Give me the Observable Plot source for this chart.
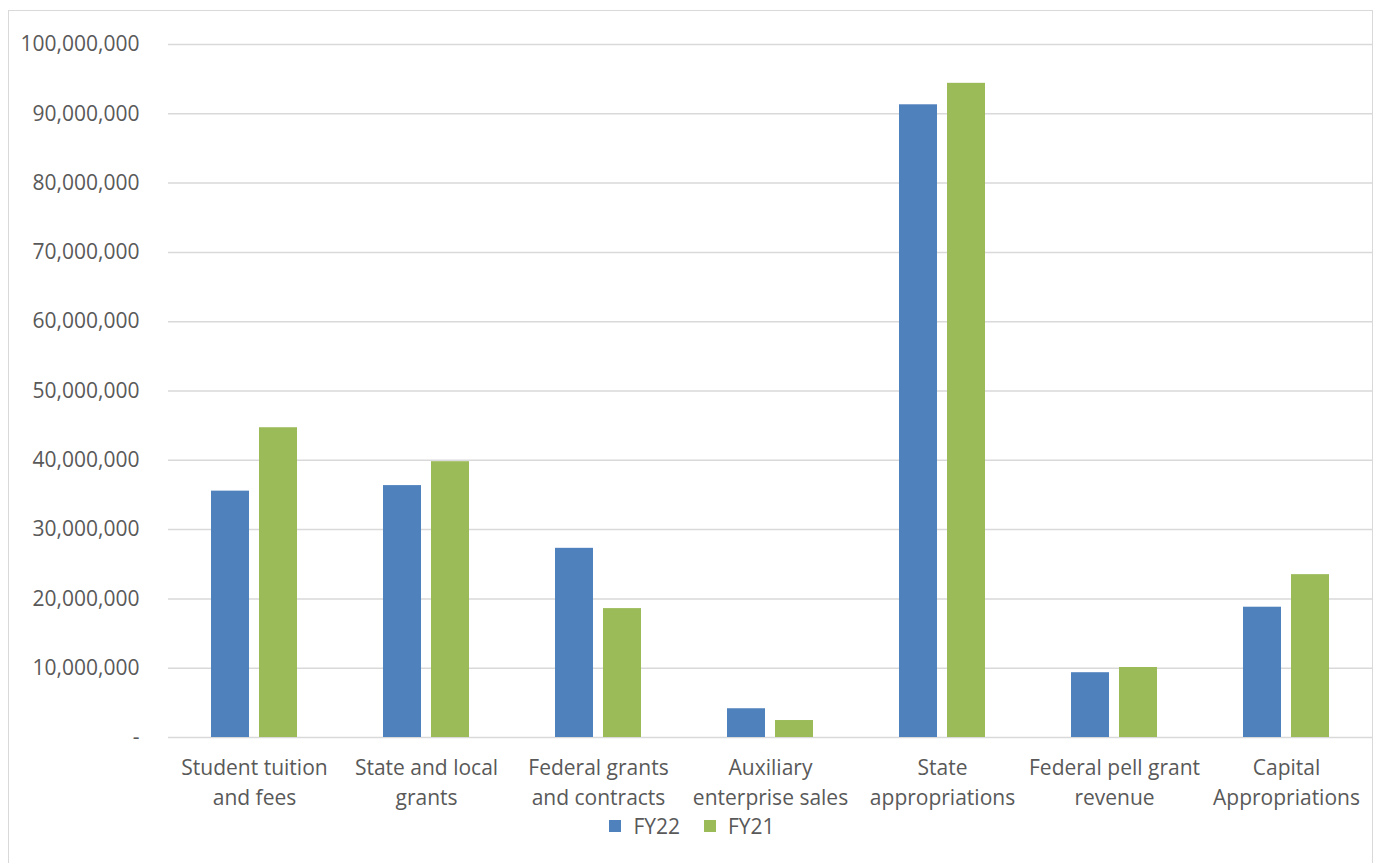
<!DOCTYPE html>
<html>
<head>
<meta charset="utf-8">
<script src="https://cdn.jsdelivr.net/npm/d3@7"></script>
<script src="https://cdn.jsdelivr.net/npm/@observablehq/plot@0.6"></script>
<style>
  body { margin: 0; background: #fff; font-family: "Open Sans", sans-serif; }
  #frame { position: absolute; left: 8px; top: 10px; width: 1365px; height: 870px; border: 1.5px solid #d9d9d9; box-sizing: border-box; }
  #plot { position: absolute; left: 0; top: 0; }
  #legend { position: absolute; top: 812px; left: 0; width: 1376px; display: flex; justify-content: center; gap: 24px; font-size: 21px; color: #595959; padding-left: 8px; box-sizing: border-box; }
  #legend span.item { display: flex; align-items: center; gap: 12px; }
  #legend span.sw { width: 12px; height: 12px; display: inline-block; }
</style>
</head>
<body>
<div id="frame"></div>
<div id="plot"></div>
<div id="legend"></div>
<script>
const categories = [
  "Student tuition\nand fees",
  "State and local\ngrants",
  "Federal grants\nand contracts",
  "Auxiliary\nenterprise sales",
  "State\nappropriations",
  "Federal pell grant\nrevenue",
  "Capital\nAppropriations"
];
const series = ["FY22", "FY21"];
const fy22 = [35550000, 36350000, 27300000, 4150000, 91300000, 9350000, 18800000];
const fy21 = [44700000, 39800000, 18600000, 2450000, 94400000, 10100000, 23500000];
const colors = ["#4f81bd", "#9bbb59"];
const yTicks = [0, 10000000, 20000000, 30000000, 40000000, 50000000, 60000000, 70000000, 80000000, 90000000, 100000000];

const data = [];
categories.forEach((c, i) => {
  data.push({category: c, series: "FY22", value: fy22[i]});
  data.push({category: c, series: "FY21", value: fy21[i]});
});

const fmt = d3.format(",");
const W = 1376, H = 812;
const chart = Plot.plot({
  width: W,
  height: H,
  marginLeft: 167,
  marginRight: 4,
  marginTop: 44,
  marginBottom: H - 737,
  style: {fontFamily: "'Open Sans', sans-serif", fontSize: "21px", color: "#595959", background: "transparent"},
  fx: {domain: categories, padding: 0, label: null},
  x: {domain: series, paddingInner: 0.2, paddingOuter: 0.86, axis: null},
  y: {domain: [0, 100000000], label: null},
  color: {domain: series, range: colors},
  marks: [
    Plot.ruleY(yTicks, {stroke: "#d9d9d9", strokeWidth: 1.5}),
    Plot.barY(data, {fx: "category", x: "series", y: "value", fill: "series"}),
    Plot.axisY({ticks: yTicks, tickSize: 0, tickPadding: 29, fontSize: 21, fill: "#595959", tickFormat: d => d === 0 ? "-" : fmt(d), label: null}),
    Plot.axisFx({anchor: "bottom", tickSize: 0, tickPadding: 16, fontSize: 21, fill: "#595959", lineHeight: 1.43, label: null})
  ]
});
document.getElementById("plot").appendChild(chart);

const legend = document.getElementById("legend");
series.forEach((s, i) => {
  const item = document.createElement("span");
  item.className = "item";
  const sw = document.createElement("span");
  sw.className = "sw";
  sw.style.background = colors[i];
  item.appendChild(sw);
  item.appendChild(document.createTextNode(s));
  legend.appendChild(item);
});
</script>
</body>
</html>
